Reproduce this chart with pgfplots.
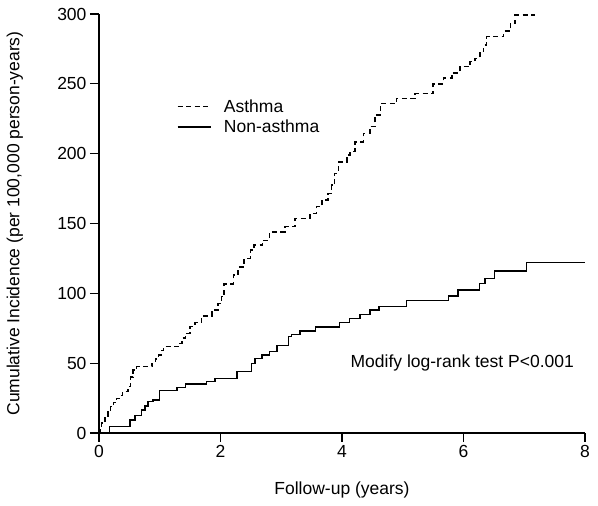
\documentclass[border=0pt]{standalone}
\usepackage{fontspec}
\setmainfont{Liberation Sans}
\usepackage{pgfplots}
\pgfplotsset{compat=1.18}
\newcommand{\chartfont}{\fontsize{17.5}{21}\selectfont}
\begin{document}
\begin{tikzpicture}
\path[use as bounding box] (0,0) rectangle (598pt,506pt);
\begin{axis}[
  at={(99pt,73pt)}, anchor=south west,
  scale only axis, width=486pt, height=419pt,
  xmin=0, xmax=8, ymin=0, ymax=300,
  axis lines=left, axis line style={-, line width=1.1pt, black},
  xtick={0,2,4,6,8}, ytick={0,50,100,150,200,250,300},
  tick align=outside, major tick length=9pt,
  tick style={line width=1.1pt, black},
  /pgf/number format/assume math mode=true,
  tick label style={font=\chartfont},
  label style={font=\chartfont},
  xlabel={Follow-up (years)},
  ylabel={Cumulative Incidence (per 100,000 person-years)},
  xlabel style={at={(axis description cs:0.5,-0.136)}, anchor=center},
  ylabel style={at={(axis description cs:-0.173,0.5)}, anchor=center},
  legend style={draw=none, fill=none, at={(axis cs:1.28,240)}, anchor=north west,
    font=\chartfont, inner sep=0pt, row sep=3pt, nodes={inner sep=1.5pt},
    /tikz/every odd column/.append style={column sep=11pt}},
  legend cell align=left,
  legend image code/.code={\draw[#1] (0pt,0pt) -- (33pt,0pt);},
  clip=false,
]
\addplot[const plot, black, line width=1.5pt, dash pattern=on 5pt off 3.5pt] coordinates {
(0,0) (0.02,4) (0.04,7) (0.1,11.7) (0.15,15) (0.19,18.8) (0.24,22) (0.29,24.8)
(0.34,27) (0.39,29.6) (0.48,33.2) (0.52,40) (0.56,45) (0.62,47.5) (0.87,49.9)
(0.93,53) (0.98,55.8) (1.02,59) (1.06,61.8) (1.31,64.2) (1.37,68) (1.42,71.4)
(1.50,76.1) (1.58,79) (1.69,83.8) (1.86,88) (1.96,92.8) (2.02,97.6) (2.06,106.7)
(2.21,113) (2.29,119) (2.39,125) (2.49,131) (2.55,134.6) (2.69,138) (2.81,144)
(3.06,147.7) (3.23,153.7) (3.47,157.3) (3.58,162) (3.67,166.8) (3.77,171.6)
(3.83,177.5) (3.88,185.9) (3.94,194.2) (4.08,199) (4.13,201.4) (4.21,208.5)
(4.35,214.5) (4.46,219.3) (4.54,227.6) (4.63,236) (4.90,239.6) (5.20,243)
(5.50,250) (5.67,254) (5.81,257.8) (5.94,262.3) (6.11,265.9) (6.19,268.2)
(6.27,273) (6.33,277.7) (6.38,283.8) (6.66,287.8) (6.77,293.3) (6.85,299.2) (7.18,299.2)
};
\addlegendentry{Asthma}
\addplot[const plot, black, line width=1.5pt] coordinates {
(0,0) (0.17,4.5) (0.51,9.3) (0.59,12.5) (0.70,16.5) (0.76,19.5) (0.81,22.4)
(0.89,23.8) (1.00,30.3) (1.28,32.5) (1.42,35) (1.77,36.7) (1.91,39.1)
(2.27,43.9) (2.51,49.9) (2.57,53.5) (2.68,55.8) (2.81,58.2) (2.93,62.5)
(3.12,69) (3.17,70.6) (3.31,73) (3.56,76) (3.96,79.2) (4.12,81.8) (4.30,84.7)
(4.46,88) (4.61,90.4) (5.06,94.7) (5.75,98.1) (5.91,102.4) (6.26,107.2)
(6.35,110.7) (6.51,116) (7.04,122.2) (8.0,122.2)
};
\addlegendentry{Non-asthma}
\node[font=\chartfont, anchor=center] at (axis cs:5.98,50) {Modify log-rank test P<0.001};
\end{axis}
\end{tikzpicture}
\end{document}
